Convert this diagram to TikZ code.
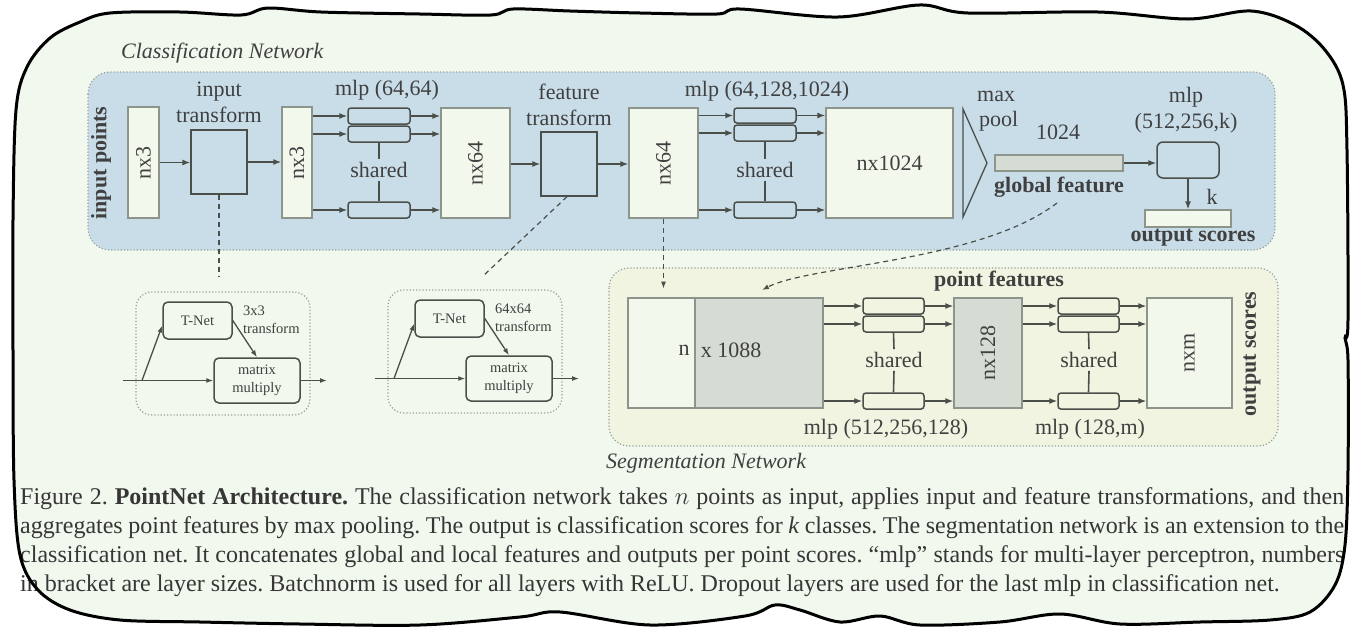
\documentclass[tikz,border=0pt]{standalone}
\usepackage{fontspec}
\setmainfont{Liberation Serif}
\usetikzlibrary{arrows.meta,calc}

\definecolor{paper}{HTML}{F1F8EE}
\definecolor{clspanel}{HTML}{C9DDE9}
\definecolor{segpanel}{HTML}{F2F4E2}
\definecolor{cream}{HTML}{F3F8EC}
\definecolor{greyfill}{HTML}{D5DCD3}
\definecolor{boxline}{HTML}{8C948C}
\definecolor{ink}{HTML}{4A4F4A}
\definecolor{txt}{HTML}{404040}
\definecolor{captxt}{HTML}{363636}
\definecolor{dotline}{HTML}{9AA09A}

% torn-paper outline of the whole figure
\newcommand\FramePath[1]{\path[#1] plot[smooth cycle,tension=0.55] coordinates {
  (13,220) (16,110) (27,67) (50,38) (80,22) (110,13) (180,12) (241,15) (268,8)
  (321,12) (420,14) (491,15) (513,9) (570,11) (640,13) (717,14) (740,9) (838,17)
  (919,5) (968,13) (1098,12) (1188,19) (1251,11) (1295,25) (1325,50) (1343,85)
  (1347,150) (1348,320) (1345,338) (1348,360) (1348,470) (1345,545) (1335,585)
  (1310,612) (1270,620) (1200,622) (1120,624) (1060,614) (1000,622) (920,625)
  (880,616) (840,622) (800,610) (775,605) (745,616) (650,625) (560,612) (520,617)
  (420,625) (300,624) (200,622) (120,620) (70,610) (38,590) (20,555) (14,480)
  (13,350)};}

% one T-Net block: #1,#2 shift, #3 name prefix, #4 matrix size
\newcommand\TNetUnit[4]{%
\begin{scope}[shift={(#1,#2)}]
  \path[panel,rounded corners=16pt] (136,292) rectangle (310,415);
  \node[tnbox,minimum width=69pt,minimum height=37pt] (#3net) at (197.5,320.5) {T-Net};
  \node[tnbox,minimum width=86pt,minimum height=45pt,align=center] (#3mm) at (257,380.5) {matrix\\multiply};
  \node[tnlab,anchor=west,align=left] (#3lbl) at (243,320) {#4\\transform};
  \coordinate (#3in) at (123,380.5);
  \coordinate (#3split) at (142,380.5);
  \coordinate (#3out) at (327,380.5);
  \draw[flowS] (#3in) -- (#3mm.west);
  \draw[flowS] (#3split) -- ([yshift=-5pt]#3net.west);
  \draw[flowS] (#3net.east) -- (#3mm.north);
  \draw[flowS] (#3mm.east) -- (#3out);
\end{scope}}

\begin{document}
\begin{tikzpicture}[x=1pt,y=-1pt,
  lab/.style={text=txt,font=\fontsize{22}{26}\selectfont,inner sep=0pt},
  blab/.style={text=txt,font=\fontsize{22}{26}\selectfont\bfseries,inner sep=0pt},
  ilab/.style={text=txt,font=\fontsize{22}{26}\selectfont\itshape,inner sep=0pt},
  tnlab/.style={text=txt,font=\fontsize{14.5}{18}\selectfont,inner sep=0pt},
  tensor/.style={draw=boxline,line width=1.3pt,fill=cream,inner sep=0pt},
  greytensor/.style={draw=boxline,line width=1.3pt,fill=greyfill,inner sep=0pt},
  mlpbox/.style={draw=ink,line width=1.5pt,rounded corners=3pt,minimum width=62pt,minimum height=16pt,inner sep=0pt},
  tfbox/.style={draw=ink,line width=1.3pt,inner sep=0pt,minimum width=56pt,minimum height=64pt},
  tnbox/.style={draw=ink,line width=1.5pt,rounded corners=5pt,inner sep=0pt,text=txt,font=\fontsize{14.5}{18}\selectfont},
  flow/.style={draw=ink,line width=1.3pt,-{Latex[length=8pt,width=6pt]}},
  flowS/.style={draw=ink,line width=1.3pt,-{Latex[length=7pt,width=5pt]}},
  sharedline/.style={draw=ink,line width=1.6pt},
  panel/.style={draw=dotline,line width=1.2pt,dotted},
  guide/.style={draw=ink,line width=1.2pt,dash pattern=on 5pt off 4pt},
  captext/.style={inner sep=0pt,text=captxt,font=\fontsize{24}{29}\selectfont\frenchspacing},
  sharedlab/.style={lab,inner sep=3pt}]

\fill[white] (0,0) rectangle (1353,630);
\useasboundingbox (0,0) rectangle (1353,630);
\FramePath{fill=paper}

% ---------------- classification network ----------------
\path[panel,fill=clspanel,rounded corners=22pt] (88,72) rectangle (1275,250);
\node[ilab,anchor=west] (clstitle) at (121,53) {Classification Network};
\node[blab,rotate=90] (inpts) at (101,163) {input points};

\node[tensor,minimum width=31pt,minimum height=111pt] (in1) at (143.5,162.5) {};
\node[lab,rotate=90] (in1t) at (in1) {nx3};
\node[tfbox] (itf) at (219,162) {};
\node[lab,align=center] (itft) at (219,102.5) {input\\transform};
\node[tensor,minimum width=30pt,minimum height=111pt] (in2) at (297,162.5) {};
\node[lab,rotate=90] (in2t) at (in2) {nx3};
\draw[flow] (in1.east) -- (in1.east -| itf.west);
\draw[flow] (itf.east) -- (itf.east -| in2.west);

\node[mlpbox] (m1a) at (379,116) {};
\node[mlpbox] (m1b) at (379,134) {};
\node[mlpbox] (m1c) at (379,210) {};
\node[lab] (mlp1t) at (387,90) {mlp (64,64)};
\node[sharedlab] (sh1) at (379,170) {shared};
\draw[sharedline] (m1b.south) -- (sh1.north);
\draw[sharedline] (sh1.south) -- (m1c.north);

\node[tensor,minimum width=69pt,minimum height=110pt] (f64a) at (475.5,163) {};
\node[lab,rotate=90] (f64at) at (f64a) {nx64};
\foreach \b in {m1a,m1b,m1c}{
  \draw[flow] (in2.east |- \b.west) -- (\b.west);
  \draw[flow] (\b.east) -- (f64a.west |- \b.east);
}

\node[tfbox] (ftf) at (569,164) {};
\node[lab,align=center] (ftft) at (569,104.5) {feature\\transform};
\node[tensor,minimum width=69pt,minimum height=110pt] (f64b) at (663.5,163) {};
\node[lab,rotate=90] (f64bt) at (f64b) {nx64};
\draw[flow] (f64a.east |- ftf.west) -- (ftf.west);
\draw[flow] (ftf.east) -- (ftf.east -| f64b.west);

\node[mlpbox,minimum height=15pt] (m2a) at (765,115.5) {};
\node[mlpbox] (m2b) at (765,133) {};
\node[mlpbox] (m2c) at (765,210) {};
\node[lab] (mlp2t) at (767,91) {mlp (64,128,1024)};
\node[sharedlab] (sh2) at (765,170) {shared};
\draw[sharedline] (m2b.south) -- (sh2.north);
\draw[sharedline] (sh2.south) -- (m2c.north);

\node[tensor,minimum width=127pt,minimum height=110pt] (f1024) at (889.5,163) {};
\node[lab] (f1024t) at (f1024) {nx1024};
\foreach \b in {m2a,m2b,m2c}{
  \draw[flow] (f64b.east |- \b.west) -- (\b.west);
  \draw[flow] (\b.east) -- (f1024.west |- \b.east);
}

% max pooling
\draw[ink,line width=1.3pt,line join=miter] (963,109) -- (987,163) -- (963,217) -- cycle;
\node[lab,anchor=west] (maxt) at (977,96) {max};
\node[lab,anchor=west] (poolt) at (979,121) {pool};

\node[greytensor,minimum width=128pt,minimum height=16pt] (gf) at (1059,163) {};
\node[lab] (gft) at (1058,132) {1024};
\node[blab] (gfl) at (1059,187) {global feature};

\node[draw=ink,line width=1.5pt,rounded corners=6pt,minimum width=62pt,minimum height=36pt,inner sep=0pt] (mlp3) at (1188,160) {};
\node[lab,align=center] (mlp3t) at (1186,110) {mlp\\(512,256,k)};
\node[tensor,minimum width=86pt,minimum height=17pt] (outb) at (1188,218.5) {};
\draw[flow] (gf.east) -- (gf.east -| mlp3.west);
\draw[flow] (mlp3.south) -- (outb.north);
\node[lab] (kt) at (1212,197) {k};
\node[blab] (outt) at (1193,238) {output scores};

% ---------------- segmentation network ----------------
\path[panel,fill=segpanel,rounded corners=20pt] (609,268) rectangle (1278,446);
\node[ilab,anchor=west] (segtitle) at (606,463) {Segmentation Network};
\node[blab] (ptf) at (999,281) {point features};

\node[tensor,minimum width=67pt,minimum height=110pt] (segw) at (661.5,353) {};
\node[greytensor,minimum width=128pt,minimum height=110pt] (segg) at (759,353) {};
\node[lab] (segn) at (684,350) {n};
\node[lab] (segx) at (731,350) {x 1088};

\node[mlpbox,minimum width=61pt] (m4a) at (893.5,306) {};
\node[mlpbox,minimum width=61pt] (m4b) at (893.5,324) {};
\node[mlpbox,minimum width=61pt] (m4c) at (893.5,401) {};
\node[sharedlab] (sh4) at (894,360) {shared};
\draw[sharedline] (m4b.south) -- (sh4.north);
\draw[sharedline] (sh4.south) -- (m4c.north);
\node[lab] (mlp4t) at (886,429) {mlp (512,256,128)};

\node[greytensor,minimum width=68pt,minimum height=110pt] (f128) at (988,353) {};
\node[lab,rotate=90] (f128t) at (f128) {nx128};
\foreach \b in {m4a,m4b,m4c}{
  \draw[flow] (segg.east |- \b.west) -- (\b.west);
  \draw[flow] (\b.east) -- (f128.west |- \b.east);
}

\node[mlpbox,minimum width=61pt] (m5a) at (1088.5,306) {};
\node[mlpbox,minimum width=61pt] (m5b) at (1088.5,324) {};
\node[mlpbox,minimum width=61pt] (m5c) at (1088.5,401) {};
\node[sharedlab] (sh5) at (1089,360) {shared};
\draw[sharedline] (m5b.south) -- (sh5.north);
\draw[sharedline] (sh5.south) -- (m5c.north);
\node[lab] (mlp5t) at (1090,429) {mlp (128,m)};

\node[tensor,minimum width=85pt,minimum height=110pt] (fnm) at (1189.5,353) {};
\node[lab,rotate=90] (fnmt) at (fnm) {nxm};
\foreach \b in {m5a,m5b,m5c}{
  \draw[flow] (f128.east |- \b.west) -- (\b.west);
  \draw[flow] (\b.east) -- (fnm.west |- \b.east);
}
\node[blab,rotate=90] (segout) at (1252,354) {output scores};

% ---------------- transform sub-networks ----------------
\TNetUnit{0}{0}{a}{3x3}
\TNetUnit{252}{-2}{b}{64x64}

% dashed guides
\coordinate (tn1top) at (219,277);
\coordinate (tn2top) at (482,277);
\draw[guide] (itf.south) -- (tn1top);
\draw[guide] ([xshift=-2pt]ftf.south) -- (tn2top);
\draw[guide,-{Latex[length=7pt,width=5pt]}] (f64b.south) -- ++(0,70);
\coordinate (gfdash) at (1057,203);
\coordinate (segin) at (762,290);
\draw[guide,-{Latex[length=7pt,width=5pt]}] (gfdash) .. controls (980,262) and (810,265) .. (segin);

% ---------------- caption ----------------
\node[captext,anchor=base west] (cap1) at (20,504) {\makebox[1324pt][s]{Figure 2. \textbf{PointNet Architecture.} The classification network takes $n$ points as input, applies input and feature transformations, and then}};
\node[captext,anchor=base west] (cap2) at (20,533.3) {\makebox[1324pt][s]{aggregates point features by max pooling. The output is classification scores for \textit{k} classes. The segmentation network is an extension to the}};
\node[captext,anchor=base west] (cap3) at (20,562.6) {\makebox[1324pt][s]{classification net. It concatenates global and local features and outputs per point scores. ``mlp'' stands for multi-layer perceptron, numbers}};
\node[captext,anchor=base west] (cap4) at (20,591.9) {in bracket are layer sizes. Batchnorm is used for all layers with ReLU. Dropout layers are used for the last mlp in classification net.};

\FramePath{draw=black,line width=3pt}
\end{tikzpicture}
\end{document}
